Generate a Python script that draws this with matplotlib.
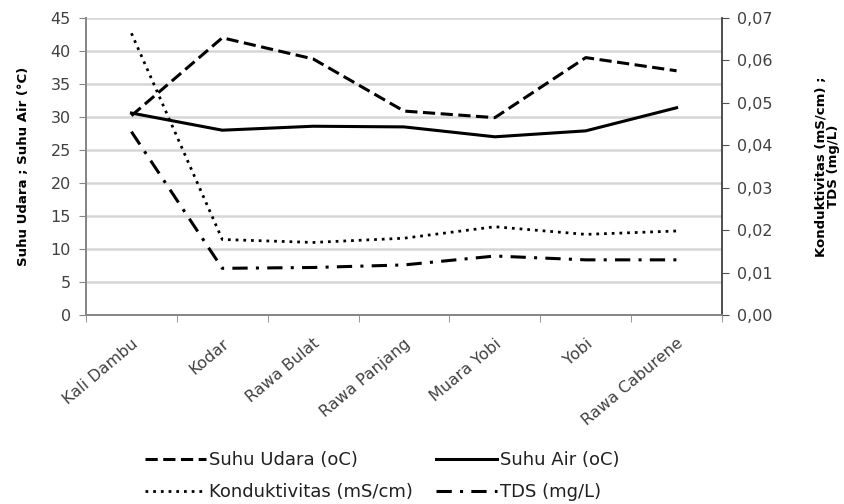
import matplotlib
matplotlib.use("Agg")
import matplotlib.pyplot as plt
import numpy as np

categories = ["Kali Dambu", "Kodar", "Rawa Bulat", "Rawa Panjang", "Muara Yobi", "Yobi", "Rawa Caburene"]
suhu_udara = [30.2, 42.0, 38.8, 30.9, 29.9, 39.0, 37.0]
suhu_air = [30.6, 28.0, 28.6, 28.5, 27.0, 27.9, 31.4]
konduktivitas = [0.0664, 0.0178, 0.0171, 0.0181, 0.0208, 0.0190, 0.0198]
tds = [0.0432, 0.0110, 0.0112, 0.0118, 0.0139, 0.0130, 0.0130]

left_ticks = list(range(0, 50, 5))
right_ticks = [0.00, 0.01, 0.02, 0.03, 0.04, 0.05, 0.06, 0.07]

plt.rcParams['font.family'] = ['DejaVu Sans']

fig = plt.figure(figsize=(8.45, 5.04), dpi=100)
ax = fig.add_axes([86/845, 1-315/504, (722-86)/845, (315-18)/504])
ax2 = ax.twinx()

x = np.arange(len(categories))
lw = 2.2
l1, = ax.plot(x, suhu_udara, color='black', lw=lw, dashes=(4, 1.8), label='Suhu Udara (oC)')
l2, = ax.plot(x, suhu_air, color='black', lw=lw, label='Suhu Air (oC)')
l3, = ax2.plot(x, konduktivitas, color='black', lw=lw * 0.9, dashes=(1, 1.8), label='Konduktivitas (mS/cm)')
l4, = ax2.plot(x, tds, color='black', lw=lw, dashes=(5, 2.7, 1, 2.7), label='TDS (mg/L)')

ax.set_xlim(-0.5, len(categories) - 0.5)
ax.set_ylim(0, 45)
ax2.set_ylim(0, 0.07)
ax.set_yticks(left_ticks)
ax2.set_yticks(right_ticks)
ax2.set_yticklabels([f"{t:.2f}".replace('.', ',') for t in right_ticks])

ax.set_xticks(x)
ax.set_xticklabels(categories, rotation=40, ha='right', va='top', rotation_mode='anchor',
                   fontsize=11.5, color='#404040')
ax.set_xticks(np.arange(-0.5, len(categories) + 0.5, 1), minor=True)
ax.tick_params(axis='x', which='major', length=0, pad=15)
ax.tick_params(axis='x', which='minor', length=5, color='#868686', direction='out')

ax.yaxis.grid(True, color='#d6d6d6', lw=1.8)
ax.set_axisbelow(True)
ax.tick_params(axis='y', labelsize=11.5, labelcolor='#404040', color='#868686', length=5, pad=6)
ax2.tick_params(axis='y', labelsize=11.5, labelcolor='#404040', color='#505050', length=5, pad=6)

for a in (ax, ax2):
    a.spines['top'].set_visible(False)
    a.spines['left'].set_color('#868686')
    a.spines['right'].set_color('#404040')
    a.spines['bottom'].set_color('#868686')
    for s in ('left', 'right', 'bottom'):
        a.spines[s].set_linewidth(1.3)
ax.spines['right'].set_visible(False)

ax.set_ylabel('Suhu Udara ; Suhu Air (°C)', fontsize=9.5, fontweight='bold')
ax.yaxis.set_label_coords(-0.088, 0.5)
ax2.set_ylabel('Konduktivitas (mS/cm) ;\nTDS (mg/L)', fontsize=9.5, fontweight='bold', linespacing=0.95)
ax2.yaxis.set_label_coords(1.146, 0.5)

fig.legend(handles=[l1, l3, l2, l4], loc='upper left', bbox_to_anchor=(145/845, 1-451/504),
           ncol=2, frameon=False, fontsize=13, handlelength=3.4, handletextpad=0.15,
           columnspacing=1.25, labelspacing=0.8, borderpad=0, borderaxespad=0,
           labelcolor='#202020')

fig.savefig('out.png', dpi=100)
